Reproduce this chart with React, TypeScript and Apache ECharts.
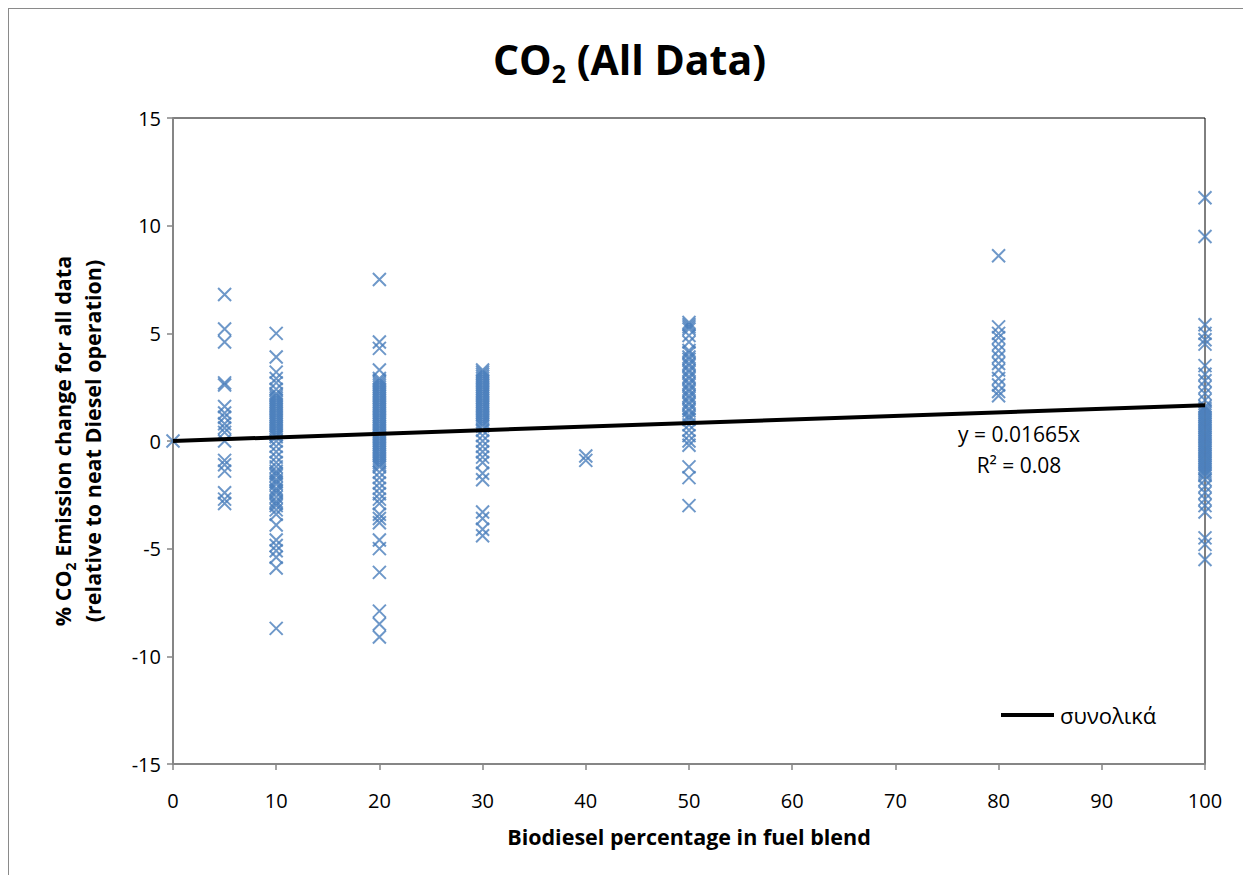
import React, { useEffect, useRef } from "react";
import * as echarts from "echarts";

// Biodiesel blend levels (% biodiesel) and the measured CO2 changes at each level
const blendLevels = [0, 5, 10, 20, 30, 40, 50, 80, 100];

const b0 = [0];
const b5 = [6.8, 5.2, 4.6, 2.7, 2.6, 1.6, 1.3, 1.1, 0.8, 0.6, 0.4, 0.0, -0.9, -1.1, -1.4, -2.4, -2.7, -2.9];
const b10 = [
  5.0, 3.9, 3.2, 2.9, 2.7, 2.4, 2.2, 2.1, 2.0, 1.9, 1.8, 1.7, 1.6, 1.5, 1.4, 1.3, 1.2, 1.1, 1.0, 0.9, 0.8,
  0.7, 0.6, 0.5, 0.4, 0.3, 0.2, 0.0, -0.25, -0.5, -0.75, -1.0, -1.2, -1.4, -1.5, -1.6, -1.8, -1.9, -2.0,
  -2.2, -2.3, -2.4, -2.6, -2.8, -2.9, -3.0, -3.2, -3.4, -3.9, -4.6, -4.85, -5.1, -5.4, -5.9, -8.7,
];
const b20 = [
  7.5, 4.6, 4.3, 3.3, 2.9, 2.8, 2.7, 2.6, 2.5, 2.4, 2.3, 2.2, 2.1, 2.0, 1.9, 1.8, 1.7, 1.6, 1.5, 1.4, 1.3,
  1.2, 1.1, 1.0, 0.9, 0.8, 0.7, 0.6, 0.5, 0.4, 0.3, 0.2, 0.1, 0.0, -0.1, -0.2, -0.3, -0.4, -0.5, -0.6, -0.7,
  -0.8, -0.9, -1.0, -1.1, -1.2, -1.45, -1.7, -1.95, -2.2, -2.45, -2.7, -2.9, -3.4, -3.6, -3.8, -4.6, -5.0,
  -6.1, -7.9, -8.5, -9.1,
];
const b30 = [
  3.3, 3.2, 3.1, 3.0, 2.9, 2.8, 2.7, 2.6, 2.5, 2.4, 2.3, 2.2, 2.1, 2.0, 1.9, 1.8, 1.7, 1.6, 1.5, 1.4, 1.3,
  1.2, 1.1, 1.0, 0.9, 0.8, 0.7, 0.5, 0.25, 0.0, -0.25, -0.5, -0.75, -1.0, -1.5, -1.8, -3.3, -3.6, -4.1, -4.4,
];
const b40 = [-0.7, -0.9];
const b50 = [
  5.5, 5.4, 5.3, 5.2, 4.9, 4.6, 4.2, 4.1, 3.9, 3.8, 3.6, 3.5, 3.3, 3.2, 3.0, 2.9, 2.7, 2.6, 2.4, 2.3, 2.1,
  2.0, 1.8, 1.7, 1.5, 1.4, 1.2, 1.1, 1.0, 0.75, 0.5, 0.25, 0.0, -0.2, -1.2, -1.7, -3.0,
];
const b80 = [8.6, 5.3, 5.0, 4.8, 4.5, 4.2, 3.9, 3.6, 3.3, 2.9, 2.6, 2.3, 2.1];
const b100 = [
  11.3, 9.5, 5.4, 5.0, 4.7, 4.5, 3.5, 3.1, 2.8, 2.5, 2.2, 1.9, 1.6, 1.5, 1.4, 1.3, 1.2, 1.1, 1.0, 0.9, 0.8,
  0.7, 0.6, 0.5, 0.4, 0.3, 0.2, 0.1, 0.0, -0.1, -0.2, -0.3, -0.4, -0.5, -0.6, -0.7, -0.8, -0.9, -1.0, -1.1,
  -1.2, -1.3, -1.4, -1.5, -1.6, -1.8, -2.1, -2.4, -2.7, -3.0, -3.3, -4.5, -4.8, -5.5,
];
const valuesByBlend = [b0, b5, b10, b20, b30, b40, b50, b80, b100];

// Linear trend through the origin
const trendName = "συνολικά";
const trendSlope = 0.01665;
const rSquared = 0.08;
const trendX = [0, 100];

const FONT = "'Open Sans', 'Noto Sans', sans-serif";
const MARKER = "#4A7EBB";
const AXIS_GRAY = "#868686";

export default function App() {
  const ref = useRef<HTMLDivElement>(null);

  useEffect(() => {
    if (!ref.current) return;
    const chart = echarts.init(ref.current, undefined, { renderer: "svg" });

    const scatterData: number[][] = [];
    blendLevels.forEach((b, i) => {
      valuesByBlend[i].forEach((v) => scatterData.push([b, v]));
    });
    const trendData = trendX.map((x) => [x, trendSlope * x]);

    chart.setOption({
      animation: false,
      backgroundColor: "#fff",
      title: {
        text: "{a|CO}{s|2}{a| (All Data)}",
        left: "center",
        top: 19,
        textStyle: {
          rich: {
            a: { fontFamily: FONT, fontWeight: "bold", fontSize: 41, lineHeight: 52, color: "#000" },
            s: {
              fontFamily: FONT,
              fontWeight: "bold",
              fontSize: 25,
              lineHeight: 22,
              verticalAlign: "bottom",
              color: "#000",
            },
          },
        },
      },
      legend: {
        left: 987,
        top: 690,
        data: [{ name: trendName, icon: "rect" }],
        itemWidth: 53,
        itemHeight: 4,
        textStyle: { fontFamily: FONT, fontSize: 22, color: "#000", padding: [0, 0, 0, 1] },
      },
      grid: {
        left: 164,
        right: 45,
        top: 109,
        bottom: 111,
        show: true,
        borderColor: "#000",
        borderWidth: 1,
        backgroundColor: "transparent",
      },
      xAxis: {
        type: "value",
        min: 0,
        max: 100,
        interval: 10,
        name: "Biodiesel percentage in fuel blend",
        nameLocation: "middle",
        nameGap: 61,
        nameTextStyle: { fontFamily: FONT, fontWeight: "bold", fontSize: 21.5, color: "#000" },
        axisLine: { show: true, onZero: false, lineStyle: { color: AXIS_GRAY, width: 2 } },
        axisTick: { show: true, inside: false, length: 6, lineStyle: { color: AXIS_GRAY, width: 1.5 } },
        axisLabel: { margin: 26, fontFamily: FONT, fontSize: 20, color: "#000" },
        splitLine: { show: false },
      },
      yAxis: {
        type: "value",
        min: -15,
        max: 15,
        interval: 5,
        name:
          "{a|% CO}{s|2}{a| Emission change for all data}\n{a|(relative to neat Diesel operation)}",
        nameLocation: "middle",
        nameGap: 66,
        nameTextStyle: {
          rich: {
            a: { fontFamily: FONT, fontWeight: "bold", fontSize: 21.5, lineHeight: 30, color: "#000" },
            s: {
              fontFamily: FONT,
              fontWeight: "bold",
              fontSize: 14,
              lineHeight: 12,
              verticalAlign: "bottom",
              color: "#000",
            },
          },
        },
        axisLine: { show: true, onZero: false, lineStyle: { color: AXIS_GRAY, width: 2 } },
        axisTick: { show: true, inside: false, length: 6, lineStyle: { color: AXIS_GRAY, width: 1.5 } },
        axisLabel: { margin: 12, fontFamily: FONT, fontSize: 20, color: "#000" },
        splitLine: { show: false },
      },
      series: [
        {
          name: "data",
          type: "scatter",
          data: scatterData,
          symbol: "path://M0,0L10,10M10,0L0,10",
          symbolSize: 13,
          itemStyle: { color: "transparent", borderColor: MARKER, borderWidth: 2 },
          z: 2,
        },
        {
          name: trendName,
          type: "line",
          data: trendData,
          symbol: "none",
          lineStyle: { color: "#000", width: 4 },
          itemStyle: { color: "#000" },
          z: 3,
        },
      ],
      graphic: [
        {
          type: "text",
          x: 1010,
          y: 425,
          style: {
            text: `y = ${trendSlope}x`,
            fontFamily: FONT,
            fontSize: 21,
            fill: "#000",
            align: "center",
            verticalAlign: "middle",
          },
        },
        {
          type: "text",
          x: 1010,
          y: 456,
          style: {
            text: `R² = ${rSquared.toFixed(2)}`,
            fontFamily: FONT,
            fontSize: 21,
            fill: "#000",
            align: "center",
            verticalAlign: "middle",
          },
        },
      ],
    });

    return () => chart.dispose();
  }, []);

  return (
    <div
      style={{
        width: 1243,
        height: 867,
        boxSizing: "border-box",
        borderTop: "1px solid #8a8a8a",
        borderLeft: "1px solid #8a8a8a",
        borderRight: "1px solid #8a8a8a",
        background: "#fff",
      }}
    >
      <div ref={ref} style={{ width: 1241, height: 866 }} />
    </div>
  );
}
